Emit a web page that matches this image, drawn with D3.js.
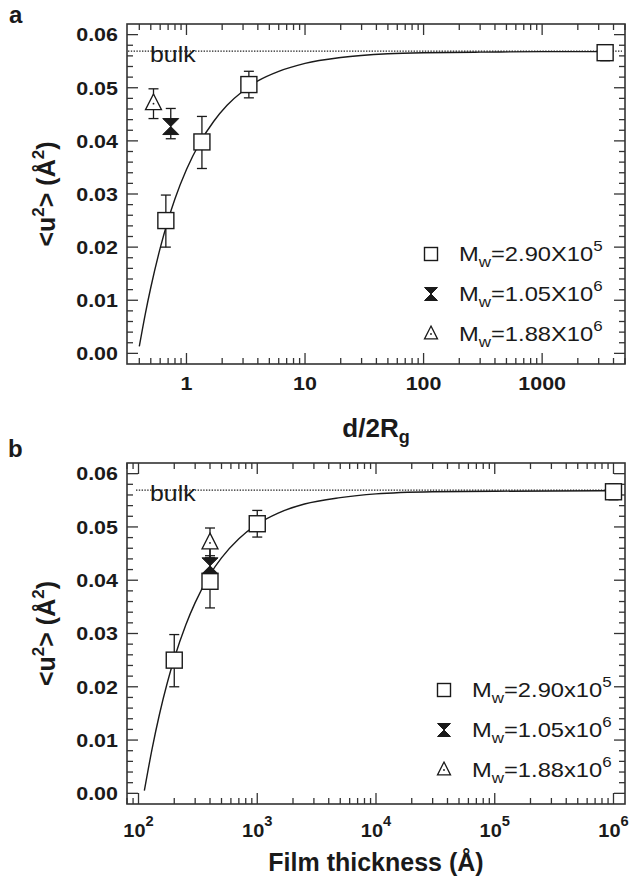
<!DOCTYPE html>
<html>
<head>
<meta charset="utf-8">
<script src="https://cdn.jsdelivr.net/npm/d3@7"></script>
<style>
  body { margin: 0; background: #fff; }
  svg { display: block; }
  text { font-family: "Liberation Sans", Arial, Helvetica, sans-serif; fill: #1a1a1a; }
</style>
</head>
<body>
<svg id="chart" width="630" height="876"></svg>
<script>
// ---- measured mean-square displacement <u^2> (Å^2) ----
const u2Square       = [0.0250, 0.0398, 0.0506, 0.0566];
const u2SquareLow    = [0.0200, 0.0348, 0.0481, 0.0551];
const u2SquareHigh   = [0.0298, 0.0446, 0.0531, 0.0581];
const u2Hourglass     = [0.0427];
const u2HourglassLow  = [0.0404];
const u2HourglassHigh = [0.0461];
const u2Triangle     = [0.0470];
const u2TriangleLow  = [0.0442];
const u2TriangleHigh = [0.0498];

// reduced thickness d/2Rg for each sample
const ratioSquare    = [0.67, 1.35, 3.36, 3400];
const ratioHourglass = [0.737];
const ratioTriangle  = [0.527];

// film thickness (Å) for each sample
const thickSquare    = [200, 400, 1000, 1e6];
const thickHourglass = [400];
const thickTriangle  = [400];

// bulk value
const u2Bulk = 0.0569;

// fitted curves
const fitRatio = [0.40, 0.45, 0.5, 0.6, 0.7, 0.8, 1.0, 1.3, 1.7, 2.2, 3, 4, 6, 10, 20, 50, 100, 300, 1000, 3400];
const fitU2A   = [0.0013, 0.0075, 0.0124, 0.0198, 0.0251, 0.0291, 0.0346, 0.0397, 0.0437, 0.0467, 0.0494, 0.0513, 0.0531, 0.0546, 0.0557, 0.0564, 0.0566, 0.0567, 0.0568, 0.0568];
const fitThick = [112, 130, 150, 175, 200, 250, 300, 400, 500, 700, 1000, 1500, 2500, 5000, 10000, 30000, 1e5, 1e6];
const fitU2B   = [0.0005, 0.0083, 0.0148, 0.0208, 0.0253, 0.0316, 0.0358, 0.0411, 0.0442, 0.0478, 0.0505, 0.0526, 0.0543, 0.0555, 0.0562, 0.0566, 0.0567, 0.0568];

// axis ticks and legend labels
const u2Ticks      = [0.00, 0.01, 0.02, 0.03, 0.04, 0.05, 0.06];
const ratioTicks   = [1, 10, 100, 1000];
const thickExps    = [2, 3, 4, 5, 6];
const mwMantissa   = ["2.90", "1.05", "1.88"];
const mwExponent   = ["5", "6", "6"];

const svg = d3.select("#chart");
const INK = "#1a1a1a";
const SX = 1.13; // horizontal stretch of tick / legend lettering

function markerSquare(g, s) {
  g.append("rect").attr("x", -s).attr("y", -s).attr("width", 2 * s).attr("height", 2 * s)
    .attr("fill", "#fff").attr("stroke", INK).attr("stroke-width", 1.4);
}
function markerHourglass(g, s) {
  g.append("path").attr("d", `M${-s},${-s}H${s}L0,0L${s},${s}H${-s}L0,0Z`)
    .attr("fill", INK).attr("stroke", INK).attr("stroke-width", 1).attr("stroke-linejoin", "miter");
}
function markerTriangle(g, s) {
  g.append("path").attr("d", `M0,${-s * 1.22}L${s},${s * 0.75}L${-s},${s * 0.75}Z`)
    .attr("fill", "#fff").attr("stroke", INK).attr("stroke-width", 1.3).attr("stroke-linejoin", "miter");
  g.append("circle").attr("r", 0.9).attr("fill", INK);
}

function drawPanel(cfg) {
  const { top, bottom, left, right } = cfg;
  const g = svg.append("g");
  const x = d3.scaleLog().domain(cfg.xDomain).range([left, right]);
  const y = d3.scaleLinear().domain([-0.002, 0.062]).range([bottom, top]);

  // panel letter
  g.append("text").attr("x", cfg.letterX).attr("y", cfg.letterY)
    .attr("font-size", 24).attr("font-weight", "bold").text(cfg.letter);

  // frame
  g.append("rect").attr("x", left).attr("y", top).attr("width", right - left).attr("height", bottom - top)
    .attr("fill", "none").attr("stroke", "#333").attr("stroke-width", 1.6);

  const tk = g.append("g").attr("stroke", "#333").attr("stroke-width", 1.3);
  // y ticks (inward, both sides)
  const yMinor = d3.range(0, 31).map(i => i * 0.002);
  yMinor.forEach((v, i) => {
    const len = i % 5 === 0 ? 11 : 6;
    const py = y(v);
    tk.append("line").attr("x1", left).attr("x2", left + len).attr("y1", py).attr("y2", py);
    tk.append("line").attr("x1", right).attr("x2", right - len).attr("y1", py).attr("y2", py);
  });
  // x ticks (inward, both sides)
  const [d0, d1] = cfg.xDomain;
  const e0 = Math.floor(Math.log10(d0)), e1 = Math.ceil(Math.log10(d1));
  for (let e = e0; e <= e1; e++) {
    for (let m = 1; m <= 9; m++) {
      const v = m * Math.pow(10, e);
      if (v < d0 || v > d1) continue;
      const len = m === 1 ? 11 : 6;
      const px = x(v);
      tk.append("line").attr("x1", px).attr("x2", px).attr("y1", bottom).attr("y2", bottom - len);
      tk.append("line").attr("x1", px).attr("x2", px).attr("y1", top).attr("y2", top + len);
    }
  }

  // y tick labels
  u2Ticks.forEach(v => {
    g.append("text").attr("transform", `translate(${left - 9},${y(v) + 6.8}) scale(${SX},1)`)
      .attr("text-anchor", "end").attr("font-size", 19).attr("font-weight", "bold")
      .text(d3.format(".2f")(v));
  });

  // x tick labels
  cfg.xLabels(g, x, bottom);

  // axis titles
  const yt = g.append("text")
    .attr("transform", `translate(55,${(top + bottom) / 2}) rotate(-90)`)
    .attr("text-anchor", "middle").attr("font-size", 25).attr("font-weight", "bold");
  yt.append("tspan").text("<u");
  yt.append("tspan").attr("font-size", 17).attr("dy", -11).text("2");
  yt.append("tspan").attr("dy", 11).text("> (Å");
  yt.append("tspan").attr("font-size", 17).attr("dy", -11).text("2");
  yt.append("tspan").attr("dy", 11).text(")");
  cfg.xTitle(g, (left + right) / 2);

  // bulk reference line
  g.append("line").attr("x1", left + cfg.bulkStart).attr("x2", right - 3)
    .attr("y1", y(u2Bulk)).attr("y2", y(u2Bulk))
    .attr("stroke", "#222").attr("stroke-width", 1.1).attr("stroke-dasharray", "1.4,1.4");
  g.append("text").attr("transform", `translate(${left + 23},${y(u2Bulk) + 11}) scale(${SX},1)`)
    .attr("font-size", 22).text("bulk");

  // fitted curve
  const line = d3.line().x(d => x(d[0])).y(d => y(d[1])).curve(d3.curveMonotoneX);
  g.append("path").datum(d3.zip(cfg.fitX, cfg.fitY)).attr("d", line)
    .attr("fill", "none").attr("stroke", INK).attr("stroke-width", 1.4);

  // error bars, then markers
  const series = [
    { xs: cfg.sqX, ys: u2Square, lo: u2SquareLow, hi: u2SquareHigh, mk: markerSquare },
    { xs: cfg.tgX, ys: u2Triangle, lo: u2TriangleLow, hi: u2TriangleHigh, mk: markerTriangle },
    { xs: cfg.hgX, ys: u2Hourglass, lo: u2HourglassLow, hi: u2HourglassHigh, mk: markerHourglass }
  ];
  const eb = g.append("g").attr("stroke", INK).attr("stroke-width", 1.3);
  series.forEach(s => s.xs.forEach((xv, i) => {
    const px = x(xv);
    eb.append("line").attr("x1", px).attr("x2", px).attr("y1", y(s.lo[i])).attr("y2", y(s.hi[i]));
    eb.append("line").attr("x1", px - 5).attr("x2", px + 5).attr("y1", y(s.lo[i])).attr("y2", y(s.lo[i]));
    eb.append("line").attr("x1", px - 5).attr("x2", px + 5).attr("y1", y(s.hi[i])).attr("y2", y(s.hi[i]));
  }));
  series.forEach(s => s.xs.forEach((xv, i) => {
    const m = g.append("g").attr("transform", `translate(${x(xv)},${y(s.ys[i])})`);
    s.mk(m, 8);
  }));

  // legend
  const legendMarks = [markerSquare, markerHourglass, markerTriangle];
  legendMarks.forEach((mk, i) => {
    const ly = cfg.legendY + i * 40;
    const m = g.append("g").attr("transform", `translate(${cfg.legendX},${ly})`);
    mk(m, 6.5);
    const t = g.append("text").attr("transform", `translate(${cfg.legendX + 28},${ly + 7}) scale(${SX},1)`)
      .attr("font-size", 21);
    t.append("tspan").text("M");
    t.append("tspan").attr("font-size", 15).attr("dy", 6).text("w");
    t.append("tspan").attr("dy", -6).text(`=${mwMantissa[i]}${cfg.times}10`);
    t.append("tspan").attr("font-size", 15).attr("dy", -10).text(mwExponent[i]);
  });
}

// panel a: against d/2Rg
drawPanel({
  letter: "a", letterX: 9, letterY: 23,
  top: 24, bottom: 364, left: 127, right: 625,
  xDomain: [0.315, 5000],
  sqX: ratioSquare, hgX: ratioHourglass, tgX: ratioTriangle,
  fitX: fitRatio, fitY: fitU2A,
  bulkStart: 1,
  legendX: 431, legendY: 254, times: "X",
  xLabels: (g, x, bottom) => {
    ratioTicks.forEach(v => {
      g.append("text").attr("transform", `translate(${x(v)},${bottom + 26}) scale(${SX},1)`)
        .attr("text-anchor", "middle").attr("font-size", 19).attr("font-weight", "bold")
        .text(d3.format("d")(v));
    });
  },
  xTitle: (g, cx) => {
    const t = g.append("text").attr("x", cx).attr("y", 437).attr("text-anchor", "middle")
      .attr("font-size", 26).attr("font-weight", "bold");
    t.append("tspan").text("d/2R");
    t.append("tspan").attr("font-size", 18).attr("dy", 6).text("g");
  }
});

// panel b: against film thickness
drawPanel({
  letter: "b", letterX: 8, letterY: 457,
  top: 463, bottom: 804, left: 127, right: 625,
  xDomain: [80, 1.25e6],
  sqX: thickSquare, hgX: thickHourglass, tgX: thickTriangle,
  fitX: fitThick, fitY: fitU2B,
  bulkStart: 9,
  legendX: 444, legendY: 690, times: "x",
  xLabels: (g, x, bottom) => {
    thickExps.forEach(e => {
      const t = g.append("text").attr("transform", `translate(${x(Math.pow(10, e))},${bottom + 33}) scale(1.05,1)`)
        .attr("text-anchor", "middle").attr("font-size", 19).attr("font-weight", "bold");
      t.append("tspan").text("10");
      t.append("tspan").attr("font-size", 14).attr("dy", -11).text(String(e));
    });
  },
  xTitle: (g, cx) => {
    g.append("text").attr("x", cx).attr("y", 871).attr("text-anchor", "middle")
      .attr("font-size", 25).attr("font-weight", "bold").text("Film thickness (Å)");
  }
});
</script>
</body>
</html>
